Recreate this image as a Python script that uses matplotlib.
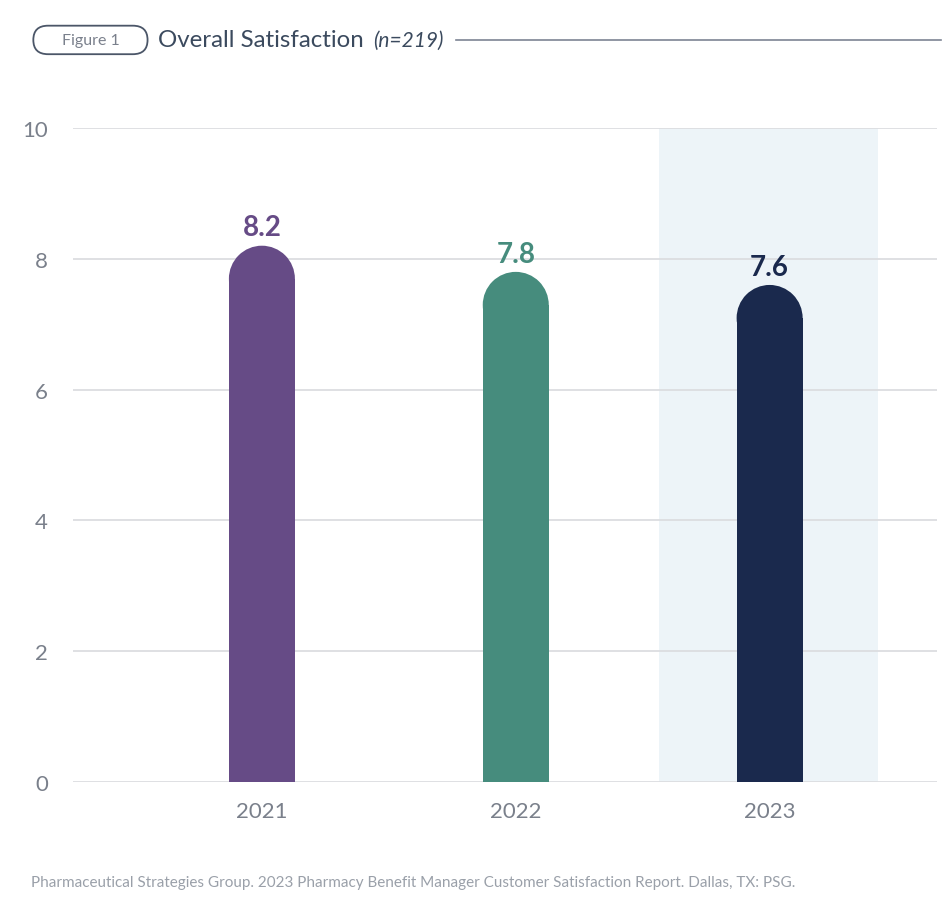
import matplotlib
matplotlib.use("Agg")
import matplotlib.pyplot as plt
from matplotlib.patches import Ellipse, FancyBboxPatch
from matplotlib.lines import Line2D

# data
years = ["2021", "2022", "2023"]
scores = [8.2, 7.8, 7.6]
bar_colors = ["#664b86", "#468c7d", "#1a294d"]
yticks = [0, 2, 4, 6, 8, 10]

plt.rcParams['font.family'] = ['Lato', 'DejaVu Sans']

fig = plt.figure(figsize=(9.52, 9.2), dpi=100)
ax = fig.add_axes([0.0767, 0.1489, 0.908, 0.7109])

xs = list(range(len(years)))
bw = 0.26
ax.set_xlim(-0.744, 2.661)
ax.set_ylim(0, 10)

# highlight for latest year
ax.axvspan(1.563, 2.425, color="#edf4f8", lw=0, zorder=0)

# rounded-top bars: rectangle + half-circle cap (ellipse in data units)
ry = 0.505
for x, v, c in zip(xs, scores, bar_colors):
    ax.bar(x, v - ry, width=bw, color=c, lw=0, zorder=3)
    ax.add_patch(Ellipse((x, v - ry), bw, 2 * ry, facecolor=c, lw=0, zorder=3))
    ax.text(x, v + 0.08, f"{v:.1f}", ha="center", va="bottom",
            fontsize=20, fontweight="bold", color=c, zorder=4)

ax.set_yticks(yticks)
ax.set_xticks(xs)
ax.set_xticklabels(years)
ax.yaxis.grid(True, color="#dcdde0", linewidth=1.3, zorder=1)
ax.set_axisbelow(True)
for s in ax.spines.values():
    s.set_visible(False)
ax.tick_params(axis="both", length=0, labelsize=16, labelcolor="#7a808b")
ax.tick_params(axis="x", pad=14)
ax.tick_params(axis="y", pad=18)

# header
box = FancyBboxPatch((0.035, 0.940), 0.120, 0.031,
                     boxstyle="round,pad=0,rounding_size=0.0155",
                     transform=fig.transFigure, fill=False,
                     edgecolor="#4b5668", linewidth=1.3, mutation_aspect=1)
fig.patches.append(box)
fig.text(0.095, 0.9555, "Figure 1", ha="center", va="center",
         fontsize=11.5, color="#7a808c")
fig.text(0.166, 0.9555, "Overall Satisfaction", ha="left", va="center",
         fontsize=17.3, color="#3b4a5e")
fig.text(0.392, 0.9555, "(n=219)", ha="left", va="center",
         fontsize=15, color="#3b4a5e", style="italic")
fig.add_artist(Line2D([0.479, 0.988], [0.9555, 0.9555], transform=fig.transFigure,
                      color="#7d8494", linewidth=1.2))

fig.text(0.033, 0.040, "Pharmaceutical Strategies Group. 2023 Pharmacy Benefit Manager "
         "Customer Satisfaction Report. Dallas, TX: PSG.",
         ha="left", va="center", fontsize=11.0, color="#9aa0a9")

fig.savefig("out.png", dpi=100, facecolor="white")
